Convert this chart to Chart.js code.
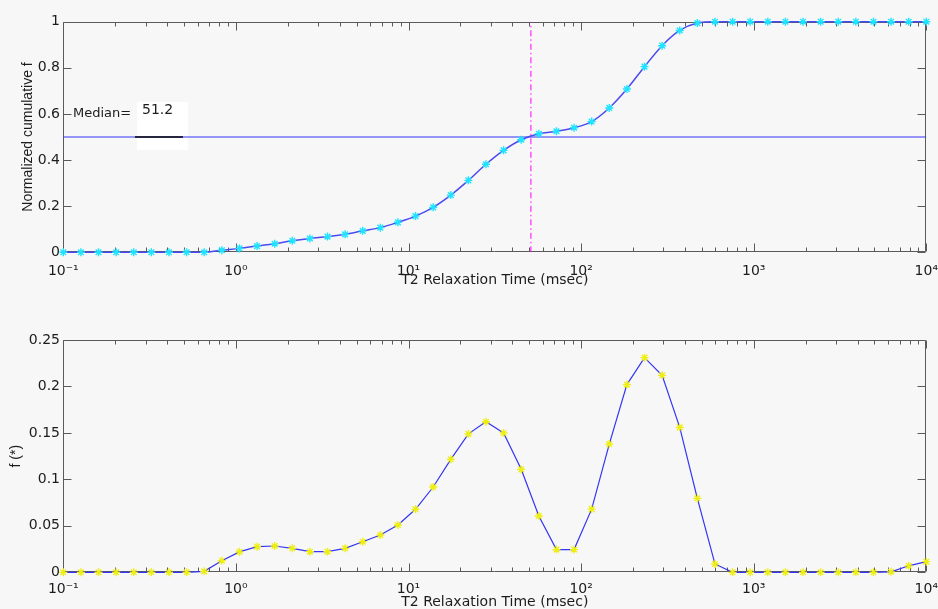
<!DOCTYPE html>
<html>
<head>
<meta charset="utf-8">
<script src="https://cdn.jsdelivr.net/npm/chart.js@4.4.1/dist/chart.umd.min.js"></script>
<style>
  html, body { margin: 0; padding: 0; background: #f7f7f7; overflow: hidden; }
  #wrap { position: relative; width: 938px; height: 609px; }
  canvas { position: absolute; left: 0; }
  #cum { top: 0; }
  #dist { top: 305px; }
</style>
</head>
<body>
<div id="wrap">
  <canvas id="cum" width="938" height="305"></canvas>
  <canvas id="dist" width="938" height="320"></canvas>
</div>
<script>
// T2 bins (msec), 50 log-spaced points from 0.1 to 10^4
const T2 = [
  0.1, 0.1265, 0.16, 0.2024, 0.256, 0.3237, 0.4095, 0.518, 0.6551, 0.8286,
  1.048, 1.326, 1.677, 2.121, 2.683, 3.393, 4.292, 5.429, 6.866, 8.685,
  10.98, 13.9, 17.58, 22.23, 28.12, 35.56, 44.98, 56.9, 71.97, 91.03,
  115.1, 145.6, 184.2, 233.0, 294.7, 372.8, 471.5, 596.4, 754.3, 954.1,
  1207, 1526, 1931, 2442, 3089, 3907, 4942, 6251, 7906, 10000,
];

// normalized cumulative distribution
const CUM_F = [
  0, 0, 0, 0, 0, 0, 0, 0, 0, 0.009,
  0.017, 0.027, 0.037, 0.05, 0.06, 0.068, 0.078, 0.093, 0.107, 0.13,
  0.157, 0.195, 0.248, 0.312, 0.382, 0.442, 0.488, 0.514, 0.525, 0.54,
  0.567, 0.626, 0.708, 0.805, 0.896, 0.962, 0.994, 1, 1, 1,
  1, 1, 1, 1, 1, 1, 1, 1, 1, 1,
];

// incremental distribution f
const DIST_F = [
  0, 0, 0, 0, 0, 0, 0, 0, 0.001, 0.0125,
  0.022, 0.0276, 0.0283, 0.0258, 0.0222, 0.0222, 0.0258, 0.0329, 0.0401, 0.0509,
  0.0678, 0.0918, 0.1216, 0.149, 0.162, 0.150, 0.1108, 0.0606, 0.0245, 0.0245,
  0.068, 0.138, 0.202, 0.231, 0.212, 0.156, 0.0796, 0.009, 0, 0,
  0, 0, 0, 0, 0, 0, 0, 0.0005, 0.007, 0.0114,
];

const MEDIAN_T2 = 51.2;
const MEDIAN_LEVEL = 0.5;

const DECADES = [0.1, 1, 10, 100, 1000, 10000];
const CUM_TICKS = [0, 0.2, 0.4, 0.6, 0.8, 1];
const DIST_TICKS = [0, 0.05, 0.1, 0.15, 0.2, 0.25];

const INK = '#1c1c1c';
const AXIS = '#5a5a5a';
const FONT = 'DejaVu Sans';
const LINE_BLUE = '#3535f5';
const CYAN = '#1fe3ff';
const YELLOW = '#eeee10';

const SUP = { '-': '\u207B', '0': '\u2070', '1': '\u00B9', '2': '\u00B2', '3': '\u00B3', '4': '\u2074' };
const decadeLabel = v => '10' + String(Math.round(Math.log10(v))).split('').map(c => SUP[c]).join('');

// matlab-like box with inward ticks on all four sides
const boxTicks = {
  id: 'boxTicks',
  beforeDatasetsDraw(chart) {
    const { ctx, chartArea: a, scales: { x, y } } = chart;
    const L = Math.round(a.left) + 0.5, R = Math.round(a.right) - 0.5;
    const T = Math.round(a.top) + 0.5, B = Math.round(a.bottom) - 0.5;
    ctx.save();
    ctx.strokeStyle = AXIS;
    ctx.lineWidth = 1;
    ctx.beginPath();
    ctx.rect(L, T, R - L, B - T);
    DECADES.forEach(d => {
      for (let k = 1; k <= 9; k++) {
        const v = d * k;
        if (v > 10000) break;
        const px = Math.round(x.getPixelForValue(v)) + 0.5;
        const len = k === 1 ? 8 : 4;
        ctx.moveTo(px, B); ctx.lineTo(px, B - len);
        ctx.moveTo(px, T); ctx.lineTo(px, T + len);
      }
    });
    y.ticks.forEach(t => {
      const py = Math.round(y.getPixelForValue(t.value)) + 0.5;
      ctx.moveTo(L, py); ctx.lineTo(L + 8, py);
      ctx.moveTo(R, py); ctx.lineTo(R - 8, py);
    });
    ctx.stroke();
    ctx.restore();
  }
};

// "Median=" readout in the top panel
const medianReadout = {
  id: 'medianReadout',
  beforeDatasetsDraw(chart) {
    const ctx = chart.ctx;
    ctx.save();
    ctx.fillStyle = '#ffffff';
    ctx.fillRect(137, 102, 51, 48);
    ctx.restore();
  },
  afterDatasetsDraw(chart) {
    const { ctx, scales: { y } } = chart;
    const yMid = y.getPixelForValue(MEDIAN_LEVEL);
    const y06 = y.getPixelForValue(0.6);
    ctx.save();
    ctx.strokeStyle = '#000';
    ctx.lineWidth = 1.5;
    ctx.beginPath();
    ctx.moveTo(135, yMid); ctx.lineTo(183, yMid);
    ctx.stroke();
    ctx.fillStyle = INK;
    ctx.textBaseline = 'middle';
    ctx.font = '13px "' + FONT + '"';
    ctx.fillText('Median=', 73, y06 - 0.5);
    ctx.font = '14px "' + FONT + '"';
    ctx.fillText(MEDIAN_T2.toFixed(1), 142, y06 - 3.5);
    ctx.restore();
  }
};

function xAxis(height, tickPad, titlePad) {
  return {
    type: 'logarithmic', min: 0.1, max: 10000,
    afterBuildTicks: s => { s.ticks = DECADES.map(v => ({ value: v })); },
    afterFit: s => { s.height = height; s.paddingLeft = 0; s.paddingRight = 0; },
    grid: { display: false, drawTicks: false },
    border: { display: false },
    ticks: {
      autoSkip: false, maxRotation: 0, padding: tickPad, color: INK,
      font: { family: FONT, size: 14 },
      callback: v => decadeLabel(v),
    },
    title: {
      display: true, text: 'T2 Relaxation Time (msec)', color: INK,
      font: { family: FONT, size: 14 }, padding: { top: 0, bottom: titlePad },
    },
  };
}

function yAxis(max, ticks, title, titlePad) {
  return {
    type: 'linear', min: 0, max: max,
    afterBuildTicks: s => { s.ticks = ticks.map(v => ({ value: v })); },
    afterFit: s => { s.width = 63.3; s.paddingTop = 0; s.paddingBottom = 0; },
    grid: { display: false, drawTicks: false },
    border: { display: false },
    ticks: {
      padding: 3.3, color: INK, font: { family: FONT, size: 14 },
      callback: v => String(+(+v).toFixed(2)),
    },
    title: {
      display: true, text: title, color: INK,
      font: { family: 'Liberation Sans', size: 14 }, padding: { top: titlePad, bottom: 0 },
    },
  };
}

const baseOptions = {
  responsive: false,
  animation: false,
  events: [],
  plugins: { legend: { display: false }, tooltip: { enabled: false } },
};

// ===== top: cumulative =====
new Chart(document.getElementById('cum'), {
  type: 'line',
  data: {
    datasets: [
      {
        data: T2.map((t, i) => ({ x: t, y: CUM_F[i] })),
        borderColor: '#4a4af0', borderWidth: 1.5,
        cubicInterpolationMode: 'monotone',
        pointStyle: 'star', pointRadius: 4,
        pointBorderColor: CYAN, pointBackgroundColor: CYAN, pointBorderWidth: 1.4,
        clip: false,
      },
      {
        data: [{ x: 0.1, y: MEDIAN_LEVEL }, { x: 10000, y: MEDIAN_LEVEL }],
        borderColor: LINE_BLUE, borderWidth: 1.2, pointRadius: 0,
      },
      {
        data: [{ x: MEDIAN_T2, y: 0 }, { x: MEDIAN_T2, y: 1 }],
        borderColor: '#ff00ff', borderWidth: 1, borderDash: [6, 3, 1.5, 3], pointRadius: 0,
      },
    ],
  },
  options: {
    ...baseOptions,
    layout: { padding: { top: 21.7, right: 11.7, left: 0, bottom: 0 } },
    scales: {
      x: xAxis(52.7, 11, 16),
      y: yAxis(1, CUM_TICKS, 'Normalized cumulative f', 19.6),
    },
  },
  plugins: [boxTicks, medianReadout],
});

// ===== bottom: distribution =====
new Chart(document.getElementById('dist'), {
  type: 'line',
  data: {
    datasets: [{
      data: T2.map((t, i) => ({ x: t, y: DIST_F[i] })),
      borderColor: LINE_BLUE, borderWidth: 1.2, tension: 0,
      pointStyle: 'star', pointRadius: 4,
      pointBorderColor: YELLOW, pointBackgroundColor: YELLOW, pointBorderWidth: 1.3,
      clip: false,
    }],
  },
  options: {
    ...baseOptions,
    layout: { padding: { top: 35, right: 11.7, left: 0, bottom: 0 } },
    scales: {
      x: xAxis(52.7, 8.4, 14.6),
      y: yAxis(0.25, DIST_TICKS, 'f (*)', 8),
    },
  },
  plugins: [boxTicks],
});
</script>
</body>
</html>
